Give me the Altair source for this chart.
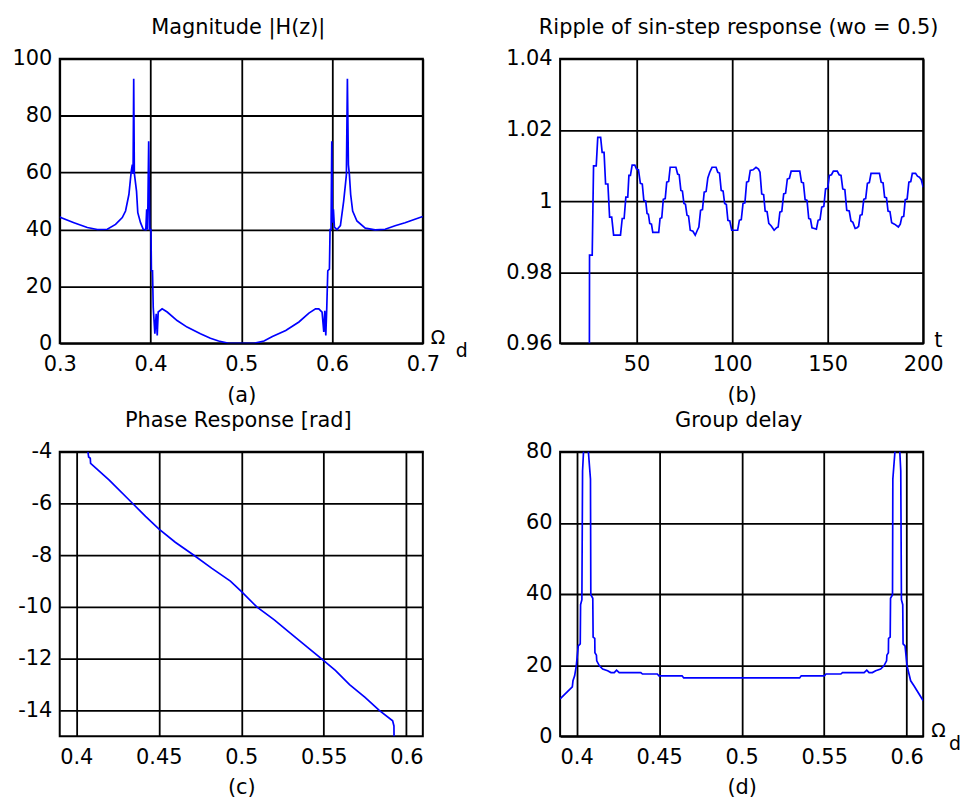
import altair as alt
import pandas as pd

# ---------------- data ----------------
# (a) Magnitude |H(z)|
mag_w = [0.300, 0.3011, 0.3157, 0.3304, 0.3414, 0.3524, 0.3615, 0.3689, 0.3725, 0.3762,
         0.3788, 0.3800, 0.3808, 0.3815, 0.3822, 0.3846, 0.3860, 0.3890, 0.3920, 0.3948,
         0.3958, 0.3968, 0.3980, 0.3992, 0.4005, 0.4010, 0.4022, 0.4030, 0.4048, 0.4063,
         0.4074, 0.4085, 0.4128, 0.4184, 0.4293, 0.4403, 0.4550, 0.4660, 0.4750, 0.4850,
         0.5000, 0.5150, 0.5250, 0.5343, 0.5490, 0.5635, 0.5745, 0.5818, 0.5854, 0.5890,
         0.5909, 0.5920, 0.5931, 0.5942, 0.5953, 0.5971, 0.5978, 0.5989, 0.5997, 0.6004,
         0.6015, 0.6026, 0.6055, 0.6092, 0.6128, 0.6147, 0.6158, 0.6169, 0.6180, 0.6191,
         0.6205, 0.6227, 0.6274, 0.6366, 0.6475, 0.6585, 0.6694, 0.6804, 0.6913, 0.7000]
mag_h = [44.5, 44.2, 42.4, 40.7, 40.0, 40.1, 41.8, 44.2, 46.5, 52.3,
         60.5, 62.8, 59.5, 93.0, 59.7, 53.5, 45.9, 42.4, 40.1, 39.9,
         47.1, 39.9, 71.0, 40.0, 40.0, 25.5, 25.5, 12.7, 3.4, 10.4,
         2.8, 11.0, 12.1, 11.0, 8.0, 5.7, 3.4, 1.8, 0.8, 0.1,
         0.0, 0.1, 0.8, 2.4, 4.5, 7.5, 10.6, 12.1, 12.1, 11.0,
         4.0, 11.4, 2.8, 12.7, 25.5, 26.1, 40.0, 40.0, 71.0, 42.4,
         47.1, 40.8, 40.0, 41.4, 50.0, 55.8, 59.3, 93.0, 62.8, 59.3,
         52.3, 46.5, 43.0, 40.5, 39.9, 40.1, 41.3, 42.4, 43.6, 44.6]

# (b) Ripple of sin-step response
rip_t = [25.3, 25.4, 26.8, 27.5, 28.9, 29.7, 31.2, 32.0, 33.0, 33.8, 35.0, 35.9, 37.0, 38.0,
         41.6, 42.5, 43.5, 44.4, 45.4, 46.0, 46.8, 47.7, 49.1, 50.0, 51.0, 52.0, 53.0, 53.8,
         54.8, 55.5, 56.2, 56.9, 57.8, 58.5, 61.6, 62.3, 63.2, 64.0, 65.0, 65.8, 66.8, 67.6,
         70.6, 71.5, 72.3, 73.2, 74.0, 74.8, 75.6, 76.4, 77.2, 78.1, 79.5, 80.7, 81.8, 82.6,
         83.5, 84.5, 85.4, 86.4, 87.3, 88.3, 89.5, 91.6, 92.5, 93.4, 94.3, 95.3, 96.1, 97.0,
         97.8, 98.8, 99.8, 102.9, 103.8, 104.8, 105.7, 106.7, 107.6, 108.6, 109.5, 111.0,
         112.5, 113.8, 114.6, 115.5, 116.5, 117.3, 118.3, 119.2, 120.5, 122.0, 123.3, 124.1,
         125.0, 126.0, 127.0, 128.0, 128.9, 130.0, 130.9, 135.4, 136.3, 137.3, 138.2, 139.2,
         140.1, 141.0, 141.8, 143.0, 144.1, 145.0, 146.0, 146.9, 148.0, 148.9, 150.0, 150.9,
         152.0, 153.0, 155.0, 156.0, 157.0, 157.9, 159.0, 160.0, 161.3, 162.2, 163.2, 164.4,
         165.4, 166.2, 167.0, 168.0, 168.9, 169.9, 170.8, 171.8, 172.7, 177.1, 178.0, 179.0,
         179.8, 180.8, 181.6, 182.6, 183.5, 185.0, 187.0, 188.0, 188.8, 189.8, 190.6, 191.6,
         192.5, 193.5, 194.3, 196.0, 197.0, 198.0, 199.0, 200.0]
rip_v = [0.950, 0.9848, 0.9848, 1.0099, 1.0099, 1.0179, 1.0179, 1.0137, 1.0137, 1.0048, 1.0048, 0.9955, 0.9955, 0.9904,
         0.9904, 0.9951, 0.9951, 1.0011, 1.0011, 1.0072, 1.0072, 1.0101, 1.0101, 1.0090, 1.0088, 1.0050, 1.0048, 1.0002,
         1.0000, 0.9965, 0.9963, 0.9937, 0.9935, 0.9912, 0.9912, 0.9951, 0.9953, 1.0005, 1.0007, 1.0053, 1.0055, 1.0095,
         1.0095, 1.0076, 1.0074, 1.0030, 1.0028, 0.9993, 0.9991, 0.9960, 0.9958, 0.9918, 0.9915, 0.9904, 0.9918, 0.9927,
         0.9974, 0.9976, 1.0025, 1.0027, 1.0065, 1.0081, 1.0095, 1.0095, 1.0081, 1.0079, 1.0030, 1.0028, 0.9993, 0.9990,
         0.9946, 0.9944, 0.9918, 0.9918, 0.9946, 0.9948, 0.9993, 0.9995, 1.0053, 1.0055, 1.0086, 1.0088,
         1.0095, 1.0090, 1.0081, 1.0020, 1.0018, 0.9972, 0.9970, 0.9937, 0.9930, 0.9918, 0.9925, 0.9927,
         0.9969, 0.9971, 1.0020, 1.0022, 1.0062, 1.0064, 1.0084, 1.0084, 1.0053, 1.0051, 1.0004, 1.0002,
         0.9951, 0.9949, 0.9925, 0.9923, 0.9921, 0.9946, 0.9948, 0.9983, 0.9985, 1.0034, 1.0036, 1.0072,
         1.0074, 1.0084, 1.0084, 1.0074, 1.0072, 1.0034, 1.0032, 0.9974, 0.9972, 0.9944, 0.9940, 0.9923,
         0.9925, 0.9929, 0.9960, 0.9962, 1.0005, 1.0007, 1.0050, 1.0052, 1.0078, 1.0078, 1.0053, 1.0051,
         1.0011, 1.0009, 0.9972, 0.9970, 0.9939, 0.9935, 0.9927, 0.9935, 0.9955, 0.9957, 1.0004, 1.0006,
         1.0053, 1.0055, 1.0078, 1.0078, 1.0070, 1.0067, 1.0060, 1.0039]

# (c) Phase response [rad]
ph_w = [0.4071, 0.4075, 0.4085, 0.4087, 0.4200, 0.4342, 0.4420, 0.4500, 0.4600, 0.4713,
        0.4820, 0.4934, 0.5000, 0.5094, 0.5200, 0.5295, 0.5400, 0.5485, 0.5570, 0.5656,
        0.5750, 0.5836, 0.5917, 0.5925, 0.5926]
ph_v = [-4.0, -4.2, -4.25, -4.45, -5.1, -6.0, -6.5, -6.98, -7.5, -8.0,
        -8.5, -9.0, -9.4, -10.0, -10.5, -11.0, -11.55, -12.0, -12.45, -13.0,
        -13.5, -14.0, -14.4, -14.6, -15.3]

# (d) Group delay
gd_w = [0.3900, 0.3974, 0.3978, 0.3988, 0.3998, 0.4010, 0.4022, 0.4024, 0.4032, 0.4036,
        0.4044, 0.4068, 0.4084, 0.4086, 0.4098, 0.4100, 0.4110, 0.4111, 0.4120, 0.4122,
        0.4138, 0.4158, 0.4188, 0.4208, 0.4228, 0.4242, 0.4258, 0.4389, 0.4399, 0.4489,
        0.4499, 0.4639, 0.4649, 0.5000, 0.5351, 0.5361, 0.5501, 0.5511, 0.5601, 0.5611,
        0.5742, 0.5758, 0.5772, 0.5792, 0.5812, 0.5842, 0.5862, 0.5878, 0.5880, 0.5889,
        0.5890, 0.5900, 0.5902, 0.5914, 0.5916, 0.5932, 0.5956, 0.5964, 0.5968, 0.5976,
        0.5978, 0.5990, 0.6002, 0.6014, 0.6024, 0.6044, 0.6100]
gd_v = [10.5, 13.9, 15.6, 17.0, 19.8, 25.4, 26.0, 37.0, 38.4, 74.6,
        82.0, 82.0, 72.3, 39.8, 38.8, 27.9, 27.5, 23.5, 22.8, 21.2,
        19.8, 18.9, 18.4, 17.9, 17.9, 18.6, 17.9, 17.9, 17.5, 17.5,
        17.0, 17.0, 16.4, 16.4, 16.4, 17.0, 17.0, 17.5, 17.5, 17.9,
        17.9, 18.6, 17.9, 17.9, 18.4, 18.9, 19.8, 21.2, 22.8, 23.5,
        27.5, 27.9, 38.8, 39.8, 72.3, 82.0, 82.0, 74.6, 38.4, 37.0,
        26.0, 25.4, 19.8, 17.5, 15.6, 14.2, 10.0]

# axis ticks
a_xticks = [0.3, 0.4, 0.5, 0.6, 0.7]
a_yticks = [0, 20, 40, 60, 80, 100]
b_xticks = [50, 100, 150, 200]
b_yticks = [0.96, 0.98, 1, 1.02, 1.04]
c_xticks = [0.4, 0.45, 0.5, 0.55, 0.6]
c_yticks = [-14, -12, -10, -8, -6, -4]
d_xticks = [0.4, 0.45, 0.5, 0.55, 0.6]
d_yticks = [0, 20, 40, 60, 80]

W, H = 365, 286
FONT = "DejaVu Sans"
FS = 21


def txt(s, x, y, size, align="left"):
    return alt.Chart(pd.DataFrame({"s": [s]})).mark_text(
        font=FONT, fontSize=size, align=align, baseline="alphabetic", color="black"
    ).encode(text="s:N", x=alt.value(x), y=alt.value(y))


def panel(xs, ys, xdom, ydom, xticks, yticks, title, caption, xlabel=None, dx=33):
    df = pd.DataFrame({"x": xs, "y": ys})
    line = alt.Chart(df).mark_line(color="#0000ff", strokeWidth=1.7, clip=True).encode(
        x=alt.X("x:Q",
                scale=alt.Scale(domain=xdom, nice=False, zero=False),
                axis=alt.Axis(values=xticks, title=caption, labelExpr="'' + datum.value",
                              labelPadding=10, titleY=58, titleBaseline="alphabetic")),
        y=alt.Y("y:Q",
                scale=alt.Scale(domain=ydom, nice=False, zero=False),
                axis=alt.Axis(values=yticks, title="", labelExpr="'' + datum.value",
                              labelPadding=8)),
    )
    layers = [line, txt(title, W / 2 - 3, -25, FS, "center")]
    if xlabel == "omega":
        layers += [txt("Ω", W + 8, H + 1, 19), txt("d", W + dx, H + 14, 19)]
    elif xlabel == "t":
        layers += [txt("t", W + 11, H + 4, FS)]
    return alt.layer(*layers).properties(width=W, height=H)


pa = panel(mag_w, mag_h, [0.3, 0.7], [0, 100], a_xticks, a_yticks,
           "Magnitude |H(z)|", "(a)", "omega", dx=33)
pb = panel(rip_t, rip_v, [10, 200], [0.96, 1.04], b_xticks, b_yticks,
           "Ripple of sin-step response (wo = 0.5)", "(b)", "t")
pc = panel(ph_w, ph_v, [0.39, 0.61], [-15, -4], c_xticks, c_yticks,
           "Phase Response [rad]", "(c)")
pd_ = panel(gd_w, gd_v, [0.39, 0.61], [0, 80], d_xticks, d_yticks,
            "Group delay", "(d)", "omega", dx=26)

chart = alt.concat(pa, pb, pc, pd_, columns=2, spacing={"row": 109, "column": 138},
                   bounds="flush").configure(
    padding={"left": 2, "top": 6, "right": 0, "bottom": 0},
    font=FONT,
).configure_view(
    stroke="black", strokeWidth=2
).configure_axis(
    grid=True, gridColor="black", gridOpacity=1, gridWidth=1.8,
    ticks=False, domain=False,
    labelFont=FONT, labelFontSize=FS, labelColor="black",
    labelOverlap=False, labelFlush=False,
    titleFont=FONT, titleFontSize=FS, titleFontWeight="normal", titleColor="black",
)

chart.save("out.html", embed_options={"renderer": "svg", "actions": False})
